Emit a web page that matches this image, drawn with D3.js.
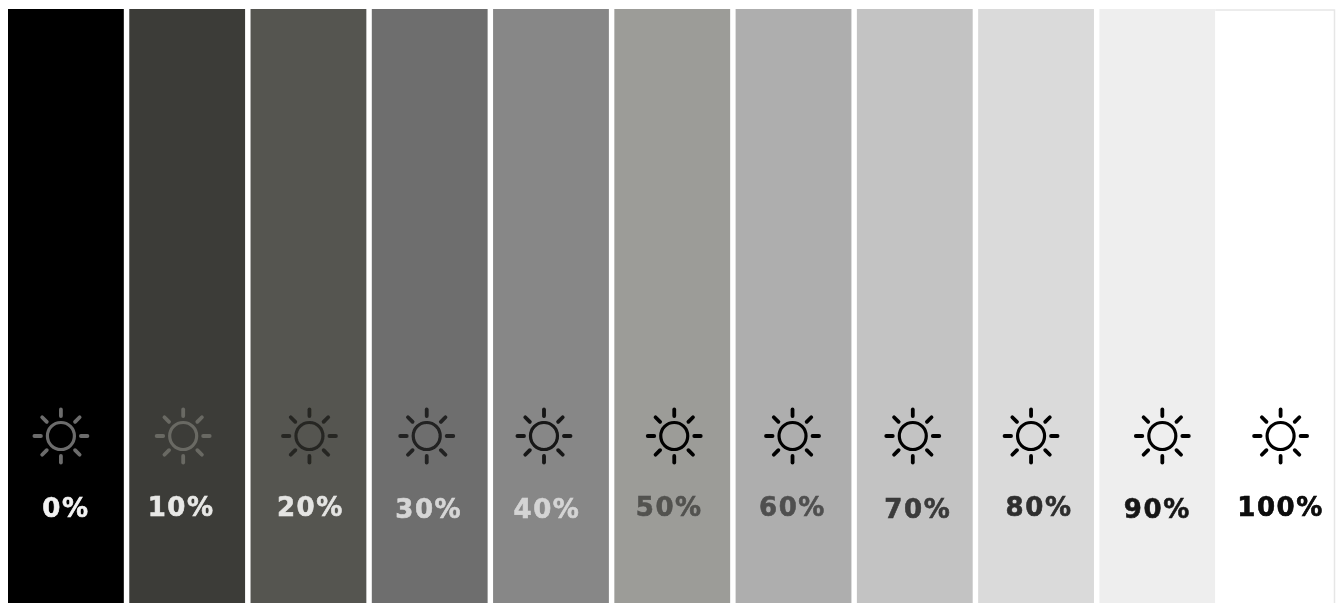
<!DOCTYPE html>
<html>
<head>
<meta charset="utf-8">
<script src="https://cdn.jsdelivr.net/npm/d3@7.9.0/dist/d3.min.js"></script>
<style>
  html, body { margin: 0; padding: 0; background: #fff; overflow: hidden; }
  svg { display: block; }
  text { font-family: "DejaVu Sans", sans-serif; font-weight: 700; font-size: 26px; letter-spacing: 1.6px; text-anchor: middle; stroke-width: 0.6; }
</style>
</head>
<body>
<div id="chart"></div>
<script>
const levels = [0, 10, 20, 30, 40, 50, 60, 70, 80, 90, 100];
const tickLabels = ["0%", "10%", "20%", "30%", "40%", "50%", "60%", "70%", "80%", "90%", "100%"];

const width = 1343;
const height = 603;

const xScale = d3.scaleBand().domain(levels).range([8, 1336.5]).paddingInner(0.045);

const barColor = d3.scaleOrdinal().domain(levels)
  .range(["#000000", "#3c3c38", "#555550", "#6e6e6e", "#878787", "#9c9c98", "#aeaeae", "#c3c3c3", "#dadada", "#eeeeee", "#ffffff"]);
const iconColor = d3.scaleOrdinal().domain(levels)
  .range(["#6c6c6c", "#696963", "#262624", "#202020", "#141414", "#000000", "#000000", "#000000", "#000000", "#050505", "#050505"]);
const labelColor = d3.scaleOrdinal().domain(levels)
  .range(["#f2f2f2", "#e8e8e6", "#e4e4e2", "#d6d6d6", "#d4d4d4", "#525250", "#505050", "#3a3a3a", "#2e2e2e", "#181818", "#080808"]);

// the icons and labels in the picture are not quite centred in their bars
const iconNudge = [-5, -4, 1, -3, -7, 2, -1, -2, -5, 5, 2];
const labelNudge = [0, -6, 2, -1, -4, -3, -1, 3, 3, 0, 2];
const labelDrop = [0, -1, -1, 1, 1, -1, -1, 1, -1, 1, -1];

const svg = d3.select("#chart").append("svg")
  .attr("width", width)
  .attr("height", height)
  .attr("viewBox", `0 0 ${width} ${height}`);

// the source is a soft, low resolution image
const soft = svg.append("defs").append("filter").attr("id", "soft");
soft.append("feGaussianBlur").attr("stdDeviation", 0.55);

svg.append("g")
  .selectAll("rect")
  .data(levels)
  .join("rect")
  .attr("x", d => xScale(d))
  .attr("y", 9)
  .attr("width", xScale.bandwidth())
  .attr("height", height - 9)
  .attr("fill", d => barColor(d));

// 90% runs up against the white bar, and only the white bar's top and right edges show
const lastLeft = xScale(90) + xScale.bandwidth();
const lastRight = xScale(100) + xScale.bandwidth() - 2;
svg.append("rect")
  .attr("x", lastLeft)
  .attr("y", 9)
  .attr("width", lastRight - lastLeft)
  .attr("height", height - 9)
  .attr("fill", "#fff");
svg.append("path")
  .attr("d", d3.line()([[lastLeft, 10], [lastRight, 10], [lastRight, height]]))
  .attr("fill", "none")
  .attr("stroke", "#e6e6e6")
  .attr("stroke-width", 1.5);

const icons = svg.append("g")
  .attr("filter", "url(#soft)")
  .selectAll("g")
  .data(levels)
  .join("g")
  .attr("transform", (d, i) => `translate(${xScale(d) + xScale.bandwidth() / 2 + iconNudge[i]},436)`)
  .attr("stroke", d => iconColor(d))
  .attr("fill", "none")
  .attr("stroke-linecap", "round");

icons.append("circle").attr("r", 13.5).attr("stroke-width", 3.2);

icons.selectAll("line")
  .data(d3.range(8))
  .join("line")
  .attr("transform", k => `rotate(${k * 45})`)
  .attr("y1", -20)
  .attr("y2", -26.5)
  .attr("stroke-width", 3.8);

svg.append("g")
  .attr("filter", "url(#soft)")
  .selectAll("text")
  .data(levels)
  .join("text")
  .attr("x", (d, i) => xScale(d) + xScale.bandwidth() / 2 + labelNudge[i])
  .attr("y", (d, i) => 517 + labelDrop[i])
  .attr("fill", d => labelColor(d))
  .attr("stroke", d => labelColor(d))
  .text((d, i) => tickLabels[i]);
</script>
</body>
</html>
